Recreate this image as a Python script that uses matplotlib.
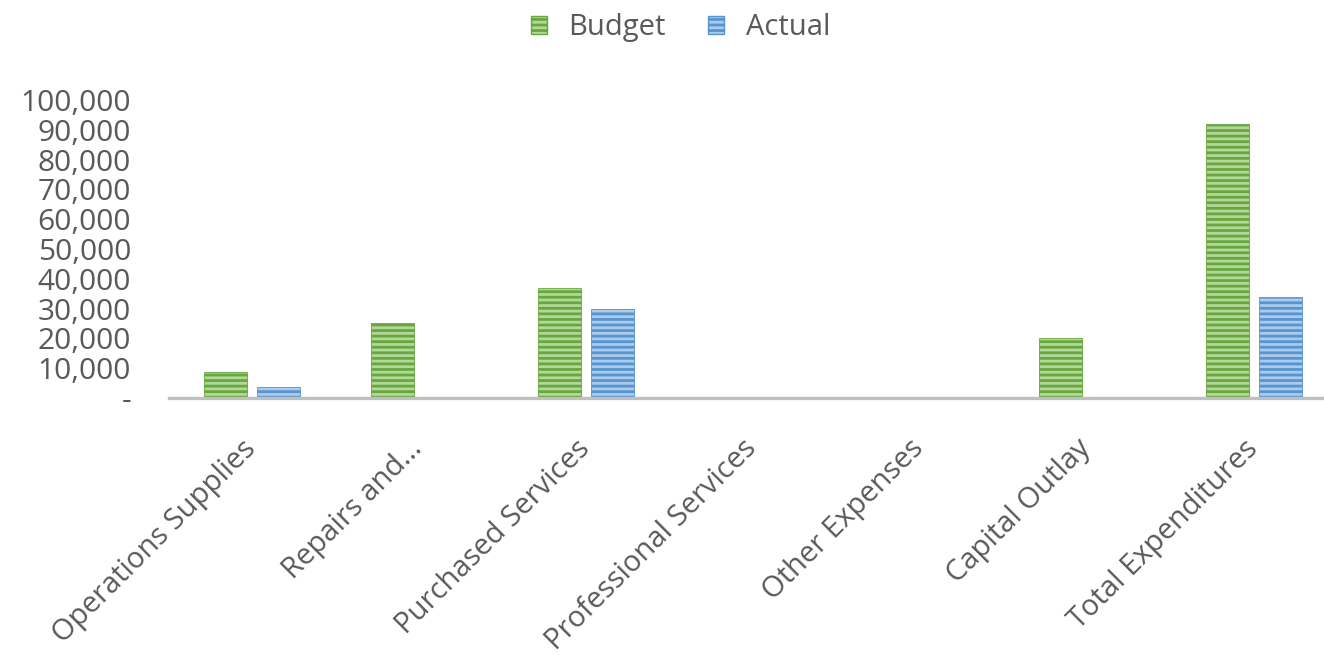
import matplotlib
matplotlib.use("Agg")
import matplotlib.pyplot as plt
import matplotlib.transforms as mtransforms
import numpy as np
from matplotlib.patches import Patch

categories = ["Operations Supplies", "Repairs and...", "Purchased Services",
              "Professional Services", "Other Expenses", "Capital Outlay",
              "Total Expenditures"]
budget = [8700, 25200, 36900, 0, 0, 20100, 91900]
actual = [3700, 0, 29900, 0, 0, 0, 33900]
y_ticks = [0, 10000, 20000, 30000, 40000, 50000, 60000, 70000, 80000, 90000, 100000]
y_tick_labels = ["-", "10,000", "20,000", "30,000", "40,000", "50,000",
                 "60,000", "70,000", "80,000", "90,000", "100,000"]

plt.rcParams["font.family"] = ["Open Sans", "DejaVu Sans"]
plt.rcParams["hatch.linewidth"] = 2.0

text_color = "#595959"
green_face, green_line = "#B2D899", "#68A63F"
blue_face, blue_line = "#AACBEB", "#5895D0"

fig = plt.figure(figsize=(13.24, 6.55), dpi=100)
ax = fig.add_axes([168.5 / 1324, 257 / 655, 1169 / 1324, 298 / 655])

x = np.arange(len(categories))
w = 0.26
off = 0.157
ax.bar(x - off, budget, width=w, facecolor=green_face, edgecolor=green_line,
       linewidth=0.6, hatch="---")
ax.bar(x + off, actual, width=w, facecolor=blue_face, edgecolor=blue_line,
       linewidth=0.6, hatch="---")

ax.set_xlim(-0.5, len(categories) - 0.5)
ax.set_ylim(0, 100000)
ax.set_yticks(y_ticks)
ax.set_yticklabels(y_tick_labels, fontsize=21.5, color=text_color)
ax.tick_params(axis="y", length=0, pad=27)
ax.set_xticks(x)
ax.set_xticklabels(categories, rotation=45, ha="right", rotation_mode="anchor",
                   fontsize=21, color=text_color)
ax.tick_params(axis="x", length=0, pad=26)
shift = mtransforms.ScaledTranslation(-0.11, 0.0, fig.dpi_scale_trans)
for lbl in ax.get_xticklabels():
    lbl.set_transform(lbl.get_transform() + shift)

for s in ["top", "right", "left"]:
    ax.spines[s].set_visible(False)
ax.spines["bottom"].set_color("#BFBFBF")
ax.spines["bottom"].set_linewidth(2.4)

handles = [Patch(facecolor=green_face, edgecolor=green_line, hatch="---", label="Budget"),
           Patch(facecolor=blue_face, edgecolor=blue_line, hatch="---", label="Actual")]
fig.legend(handles=handles, loc="upper center", bbox_to_anchor=(0.514, 1.02), ncol=2,
           frameon=False, fontsize=21, handlelength=0.55, handleheight=0.55,
           handletextpad=0.75, columnspacing=1.45, labelcolor=text_color)

fig.savefig("out.png", dpi=100)
